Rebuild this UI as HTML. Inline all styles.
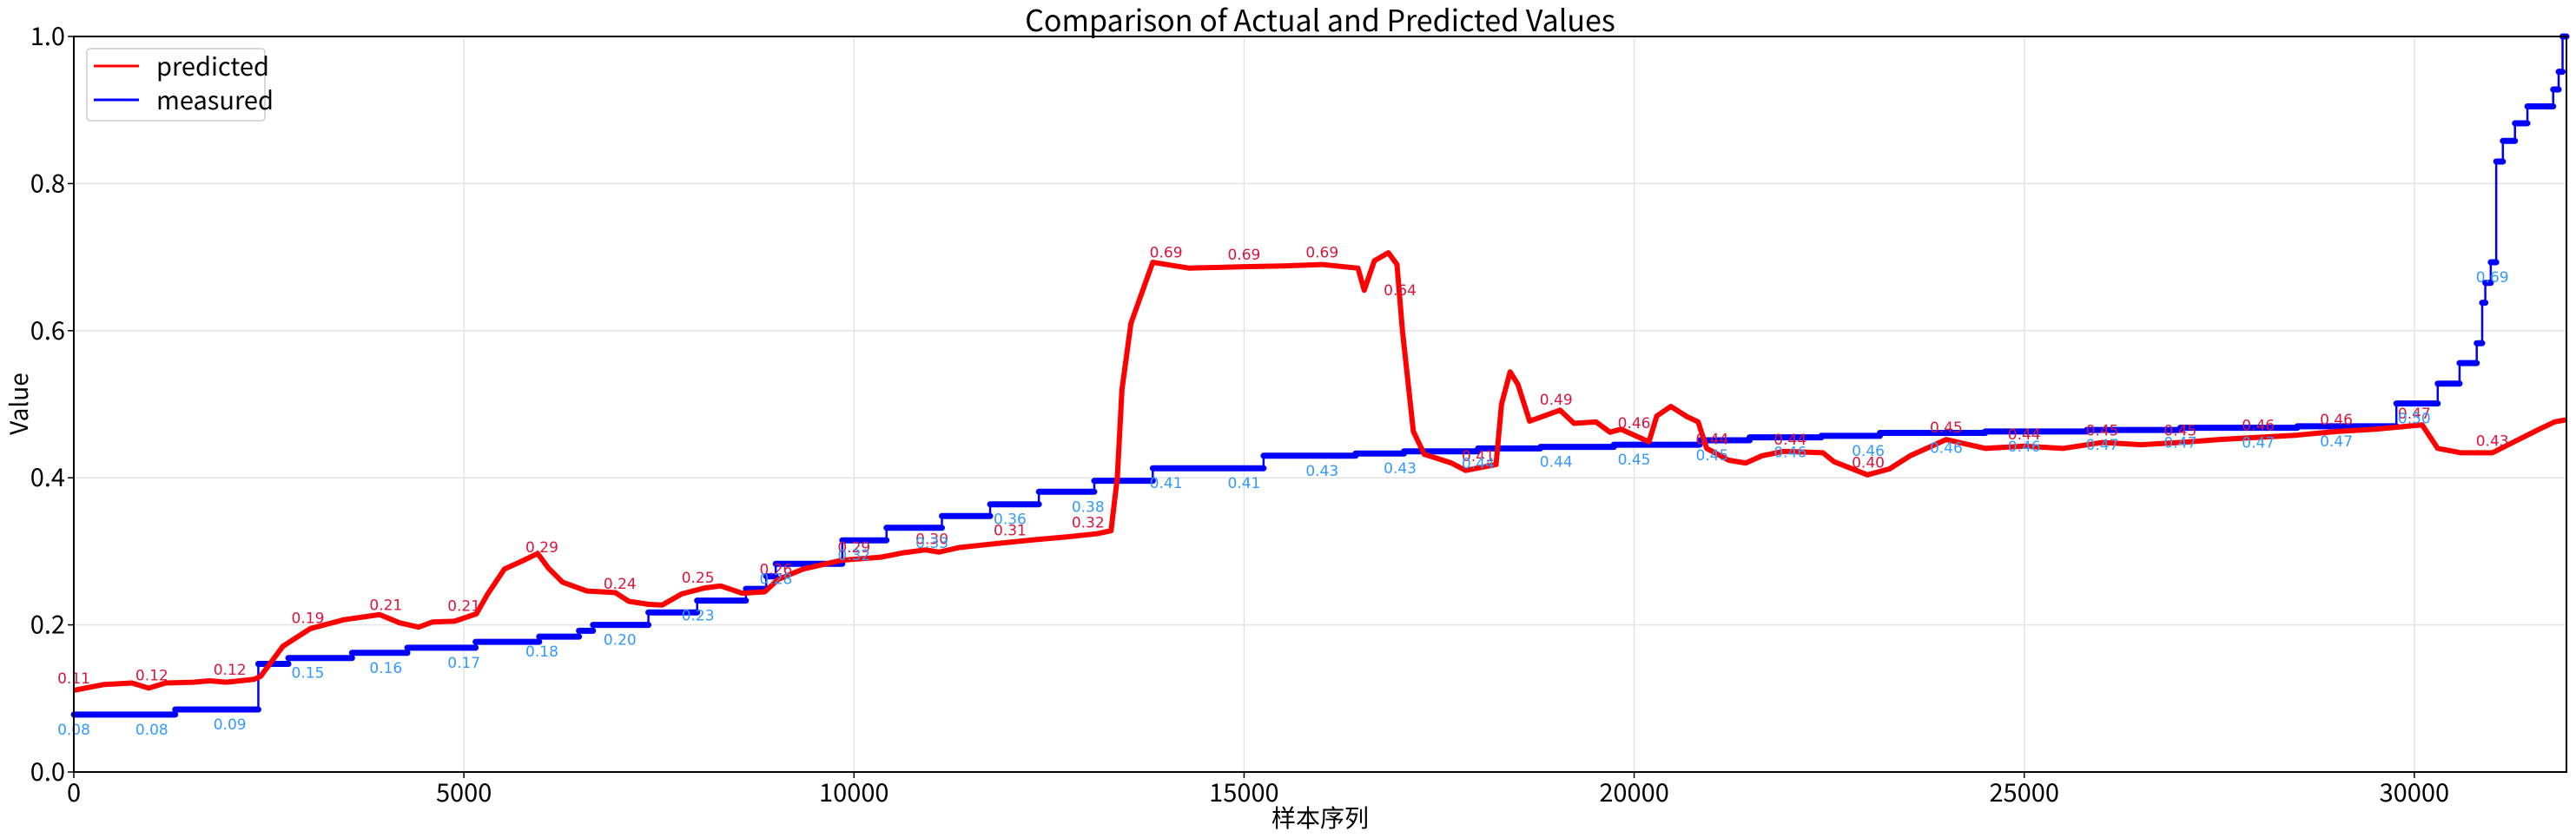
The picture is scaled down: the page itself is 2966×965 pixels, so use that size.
<!DOCTYPE html>
<html><head><meta charset="utf-8"><style>
html,body{margin:0;padding:0;background:#fff;}
svg{display:block;font-family:"Noto Sans CJK SC","Liberation Sans",sans-serif;}
</style></head><body>
<svg id="chart" width="2966" height="965" viewBox="0 0 2966 965" xmlns="http://www.w3.org/2000/svg">
<rect width="2966" height="965" fill="#fff"/>
<g id="grid"></g>
<g id="series"></g>
<g id="labels"></g>
<rect x="85" y="42" width="2870" height="847" fill="none" stroke="#000" stroke-width="2"/>
<g id="axes"></g>
<text x="1520" y="36" font-size="34" text-anchor="middle">Comparison of Actual and Predicted Values</text>
<text x="1520" y="952" font-size="28" text-anchor="middle">样本序列</text>
<text transform="translate(32,465) rotate(-90)" font-size="28" text-anchor="middle">Value</text>
<g>
<rect x="100" y="56" width="205" height="83" rx="4" fill="#fff" fill-opacity="0.85" stroke="#ccc" stroke-width="1.5"/>
<line x1="108" y1="76" x2="160" y2="76" stroke="#f00" stroke-width="3"/>
<text x="180" y="87" font-size="29">predicted</text>
<line x1="108" y1="115" x2="160" y2="115" stroke="#00f" stroke-width="3"/>
<text x="180" y="126" font-size="29">measured</text>
</g>
</svg>
<script>
// predicted series (sample index, value)
const predX = [0,390,745,960,1175,1530,1740,1955,2310,2394,2680,3033,3460,3920,4170,4420,4600,4880,5160,5305,5520,5730,5945,6085,6265,6580,6940,7115,7365,7540,7790,8075,8290,8570,8855,9030,9350,9850,10345,10630,10915,11090,11340,11770,12335,12760,13115,13295,13375,13435,13550,13830,14300,15000,15500,16000,16460,16540,16670,16850,16960,17030,17170,17310,17660,17840,18230,18300,18410,18510,18660,19050,19230,19510,19690,19830,20190,20290,20470,20680,20820,20930,21210,21430,21640,21920,22420,22560,22990,23270,23540,24000,24500,25000,25500,26000,26500,27000,27500,28000,28500,29000,29500,29900,30100,30300,30600,31000,31300,31600,31800,31950];
const predY = [0.111,0.119,0.121,0.114,0.121,0.122,0.124,0.122,0.126,0.13,0.171,0.195,0.207,0.214,0.203,0.197,0.204,0.205,0.215,0.242,0.276,0.286,0.297,0.277,0.258,0.246,0.244,0.232,0.228,0.227,0.242,0.25,0.253,0.243,0.245,0.262,0.276,0.288,0.292,0.298,0.302,0.299,0.305,0.31,0.316,0.32,0.324,0.328,0.4,0.52,0.61,0.693,0.685,0.687,0.688,0.69,0.685,0.655,0.695,0.706,0.69,0.6,0.463,0.432,0.42,0.41,0.418,0.5,0.544,0.527,0.477,0.492,0.474,0.476,0.462,0.466,0.449,0.484,0.497,0.483,0.476,0.44,0.424,0.42,0.43,0.436,0.434,0.422,0.404,0.412,0.43,0.452,0.44,0.443,0.44,0.448,0.445,0.448,0.452,0.455,0.458,0.463,0.466,0.47,0.472,0.44,0.434,0.434,0.45,0.466,0.476,0.479,0.49];
// measured step series: start index and value of each step
const measStart = [0,1300,2365,2750,3566,4275,5150,5965,6475,6655,7365,7990,8615,8875,8997,9850,10417,11127,11745,12370,13080,13830,15250,16430,17050,18000,18800,19740,20840,21480,22400,23150,24500,25800,27000,28500,29770,30300,30580,30800,30870,30910,30980,31050,31135,31290,31450,31780,31850,31900];
const measVal = [0.078,0.085,0.147,0.155,0.162,0.169,0.177,0.184,0.192,0.2,0.217,0.233,0.249,0.266,0.283,0.315,0.332,0.348,0.364,0.381,0.396,0.413,0.43,0.433,0.436,0.44,0.442,0.445,0.451,0.455,0.457,0.461,0.463,0.465,0.468,0.47,0.501,0.528,0.556,0.583,0.638,0.665,0.693,0.83,0.858,0.882,0.905,0.928,0.952,1.0];
const xEnd = 31950;
const xTicks = [0,5000,10000,15000,20000,25000,30000];
const yTicks = [0.0,0.2,0.4,0.6,0.8,1.0];
const labelX = [0,1000,2000,3000,4000,5000,6000,7000,8000,9000,10000,11000,12000,13000,14000,15000,16000,17000,18000,19000,20000,21000,22000,23000,24000,25000,26000,27000,28000,29000,30000,31000];

const L=85,R=2955,T=42,B=889;
const sx=v=>L+(v/xEnd)*(R-L);
const sy=v=>B-v*(B-T);
const NS='http://www.w3.org/2000/svg';
function mk(tag,parent,attrs){const e=document.createElementNS(NS,tag);for(const k in attrs)e.setAttribute(k,attrs[k]);parent.appendChild(e);return e;}
const grid=document.getElementById('grid'),axes=document.getElementById('axes'),ser=document.getElementById('series'),lab=document.getElementById('labels');

xTicks.forEach(t=>{
  const g=mk('line',grid,{x1:sx(t),x2:sx(t),y1:T,y2:B,stroke:'#e3e3e3','stroke-width':1.5});
  
  
  const tk=mk('line',axes,{x1:sx(t),x2:sx(t),y1:B,y2:B+7,stroke:'#000','stroke-width':1.5});
  
  
  const tx=mk('text',axes,{x:sx(t),y:B+34,'font-size':29,'text-anchor':'middle'});
  tx.textContent=t;
  
  
});
yTicks.forEach(t=>{
  const g=mk('line',grid,{x1:L,x2:R,y1:sy(t),y2:sy(t),stroke:'#e3e3e3','stroke-width':1.5});
  
  
  const tk=mk('line',axes,{x1:L-7,x2:L,y1:sy(t),y2:sy(t),stroke:'#000','stroke-width':1.5});
  
  
  const tx=mk('text',axes,{x:L-10,y:sy(t)+10,'font-size':29,'text-anchor':'end'});
  tx.textContent=t.toFixed(1);
  
  
});

// measured
let dv='',dh='';
measStart.forEach((s,i)=>{
  const e=i<measStart.length-1?measStart[i+1]:xEnd;
  dh+=`M${sx(s)},${sy(measVal[i])}H${sx(e)}`;
  if(i>0)dv+=`M${sx(s)},${sy(measVal[i-1])}V${sy(measVal[i])}`;
});
const mv=mk('path',ser,{d:dv,stroke:'#00f','stroke-width':2.5,fill:'none'});


const mh=mk('path',ser,{d:dh,stroke:'#00f','stroke-width':7,fill:'none','stroke-linecap':'round'});



// predicted
const pd=predX.map((x,i)=>(i?'L':'M')+sx(x)+','+sy(predY[i])).join('');
const pl=mk('path',ser,{d:pd,stroke:'#f00','stroke-width':6,fill:'none','stroke-linejoin':'round'});



function predAt(x){for(let i=1;i<predX.length;i++){if(x<=predX[i]){const f=(x-predX[i-1])/(predX[i]-predX[i-1]);return predY[i-1]+f*(predY[i]-predY[i-1]);}}return predY[predY.length-1];}
function measAt(x){let v=measVal[0];measStart.forEach((s,i)=>{if(x>=s)v=measVal[i];});return v;}
labelX.forEach(x=>{
  const p=predAt(x),m=measAt(x);
  const a=mk('text',lab,{x:sx(x),y:sy(p)-8,'font-size':17,'text-anchor':'middle',fill:'#dc143c','font-family':'"DejaVu Sans",sans-serif'});
  a.textContent=p.toFixed(2);
  
  
  const b=mk('text',lab,{x:sx(x),y:sy(m)+23,'font-size':17,'text-anchor':'middle',fill:'#3399ff','font-family':'"DejaVu Sans",sans-serif'});
  b.textContent=m.toFixed(2);
  
  
});
</script>
</body></html>
